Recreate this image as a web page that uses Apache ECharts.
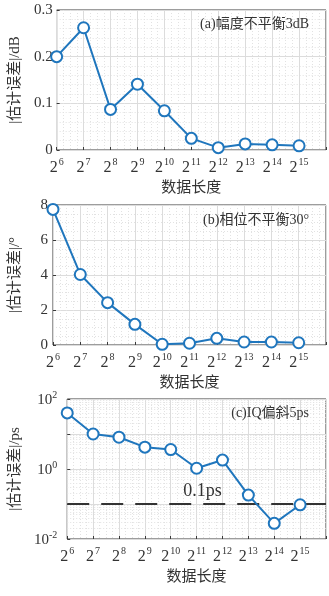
<!DOCTYPE html>
<html>
<head>
<meta charset="utf-8">
<script src="https://cdn.jsdelivr.net/npm/echarts@6/dist/echarts.min.js"></script>
<style>
  html, body { margin: 0; padding: 0; background: #fff; }
  #chart { width: 329px; height: 596px; }
</style>
</head>
<body>
<div id="chart"></div>
<script>
// Data length exponents: N = 2^k
const exponents = [6, 7, 8, 9, 10, 11, 12, 13, 14, 15];

// |estimation error| for each impairment
const ampError = [0.200, 0.262, 0.087, 0.141, 0.084, 0.025, 0.005, 0.013, 0.011, 0.009];   // dB
const phaseError = [7.75, 4.03, 2.42, 1.18, 0.04, 0.10, 0.38, 0.17, 0.17, 0.13];          // degrees
const skewError = [40, 10, 8.1, 4.2, 3.6, 1.05, 1.8, 0.18, 0.028, 0.095];                 // ps

const skewThreshold = 0.1;  // ps reference line

const panelTitles = ['(a)幅度不平衡3dB', '(b)相位不平衡30°', '(c)IQ偏斜5ps'];
const yNames = ['|估计误差|/dB', '|估计误差|/°', '|估计误差|/ps'];
const xName = '数据长度';

const SERIF = '"Liberation Serif", "Noto Sans CJK SC", serif';
const LINE_COLOR = '#1f76bd';
const AXIS_COLOR = '#3a3a3a';
const GRID_COLOR = '#dcdcdc';
const MINOR_COLOR = '#e2e2e2';

const grids = [
  { left: 53, width: 275, top: 10, height: 140 },
  { left: 53, width: 275, top: 205, height: 140 },
  { left: 53, width: 275, top: 399, height: 140 }
].map(g => Object.assign(g, { show: true, borderColor: AXIS_COLOR, borderWidth: 1, containLabel: false }));

const supRich = {
  b: { fontFamily: SERIF, fontSize: 16, color: '#333', verticalAlign: 'bottom', lineHeight: 19 },
  s: { fontFamily: SERIF, fontSize: 10, color: '#333', verticalAlign: 'top', lineHeight: 19, padding: [0, 0, 0, 1] }
};

function makeXAxis(i) {
  return {
    type: 'value', gridIndex: i, min: 6, max: 16, interval: 1,
    name: xName, nameLocation: 'middle', nameGap: 31,
    nameTextStyle: { fontFamily: SERIF, fontSize: 15, color: '#333' },
    axisLine: { show: false },
    axisTick: { show: true, inside: true, length: 3, lineStyle: { color: AXIS_COLOR } },
    axisLabel: {
      margin: 7,
      formatter: v => (v <= 15 ? '{b|2}{s|' + v + '}' : ''),
      rich: supRich
    },
    splitLine: { show: true, lineStyle: { color: GRID_COLOR, width: 1 } },
    minorTick: { show: false, splitNumber: 4 },
    minorSplitLine: { show: true, lineStyle: { color: MINOR_COLOR, type: [1, 2], width: 1 } }
  };
}

const yCommon = {
  nameLocation: 'middle', nameGap: 30, nameRotate: 90,
  nameTextStyle: { fontFamily: SERIF, fontSize: 15, color: '#333' },
  axisLine: { show: false },
  axisTick: { show: true, inside: true, length: 3, lineStyle: { color: AXIS_COLOR } },
  splitLine: { show: true, lineStyle: { color: GRID_COLOR, width: 1 } }
};

const yAxes = [
  Object.assign({}, yCommon, {
    type: 'value', gridIndex: 0, min: 0, max: 0.3, interval: 0.1, name: yNames[0],
    axisLabel: { fontFamily: SERIF, fontSize: 15, color: '#333', margin: 4,
      formatter: v => (v === 0 ? '0' : v.toFixed(1)) },
    minorTick: { show: false, splitNumber: 5 },
    minorSplitLine: { show: true, lineStyle: { color: MINOR_COLOR, type: [1, 2], width: 1 } }
  }),
  Object.assign({}, yCommon, {
    type: 'value', gridIndex: 1, min: 0, max: 8, interval: 2, name: yNames[1],
    axisLabel: { fontFamily: SERIF, fontSize: 15, color: '#333', margin: 5 },
    minorTick: { show: false, splitNumber: 4 },
    minorSplitLine: { show: true, lineStyle: { color: MINOR_COLOR, type: [1, 2], width: 1 } }
  }),
  Object.assign({}, yCommon, {
    type: 'log', logBase: 10, gridIndex: 2, min: 0.01, max: 100, name: yNames[2],
    axisLabel: {
      margin: 10,
      formatter: v => {
        const e = Math.round(Math.log10(v));
        return e % 2 === 0 ? '{b|10}{s|' + e + '}' : '';
      },
      rich: {
        b: { fontFamily: SERIF, fontSize: 15, color: '#333', verticalAlign: 'bottom', lineHeight: 18 },
        s: { fontFamily: SERIF, fontSize: 10, color: '#333', verticalAlign: 'top', lineHeight: 18 }
      }
    }
  })
];

// Minor decade grid (2..9 x 10^k) for the log panel
const logMinor = [];
for (let k = -2; k < 2; k++) {
  for (let m = 2; m <= 9; m++) logMinor.push({ yAxis: m * Math.pow(10, k) });
}

function pairs(ys) { return exponents.map((e, i) => [e, ys[i]]); }

function lineSeries(i, ys) {
  return {
    type: 'line', xAxisIndex: i, yAxisIndex: i, data: pairs(ys),
    symbol: 'emptyCircle', symbolSize: 11, showAllSymbol: true,
    lineStyle: { color: LINE_COLOR, width: 2 },
    itemStyle: { color: LINE_COLOR, borderColor: LINE_COLOR, borderWidth: 2.2 },
    z: 5, animation: false
  };
}

const series = [
  lineSeries(0, ampError),
  lineSeries(1, phaseError),
  {
    type: 'line', xAxisIndex: 2, yAxisIndex: 2, data: [], silent: true,
    markLine: {
      silent: true, symbol: 'none', animation: false,
      label: { show: false },
      lineStyle: { color: MINOR_COLOR, type: [1, 2], width: 1 },
      data: logMinor
    }
  },
  Object.assign(lineSeries(2, skewError), {
    markLine: {
      silent: true, symbol: 'none', animation: false,
      lineStyle: { color: '#333', type: [22, 12], width: 2 },
      label: {
        show: true, position: 'insideMiddleTop', formatter: '0.1ps',
        fontFamily: SERIF, fontSize: 18, color: '#333', distance: [0, 4], offset: [6, 0]
      },
      data: [{ yAxis: skewThreshold }]
    }
  })
];

const graphic = panelTitles.map((t, i) => ({
  type: 'text', right: 20, top: [17, 213, 406][i],
  style: { text: t, font: '14px ' + SERIF, fill: '#333' },
  z: 10
}));

const chart = echarts.init(document.getElementById('chart'), null, { renderer: 'canvas' });
chart.setOption({
  animation: false,
  backgroundColor: '#fff',
  grid: grids,
  xAxis: [makeXAxis(0), makeXAxis(1), makeXAxis(2)],
  yAxis: yAxes,
  series: series,
  graphic: graphic
});
</script>
</body>
</html>
